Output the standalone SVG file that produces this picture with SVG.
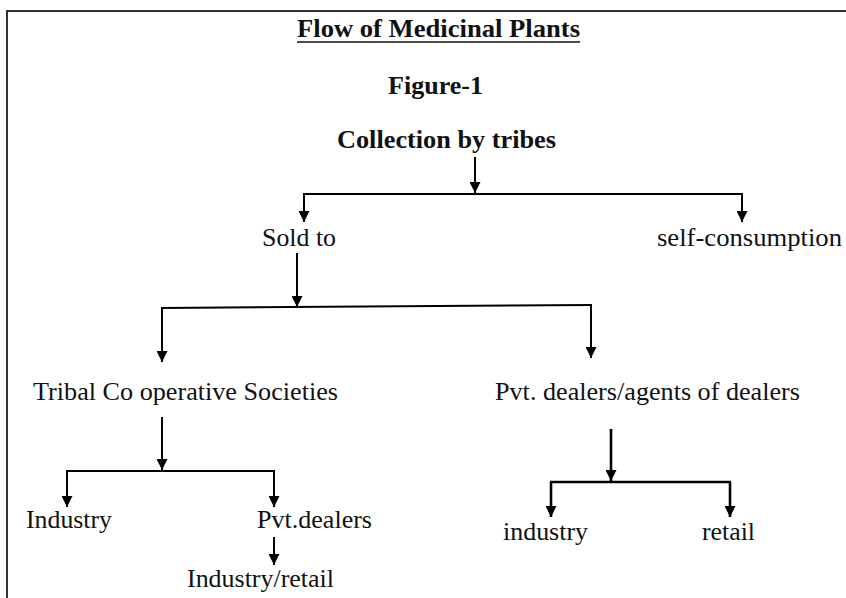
<svg xmlns="http://www.w3.org/2000/svg" width="846" height="598" viewBox="0 0 846 598">
<defs>
<marker id="ah" viewBox="0 0 12 12" refX="12" refY="6" markerWidth="12" markerHeight="11" markerUnits="userSpaceOnUse" orient="auto">
<path d="M0,0 L12,6 L0,12 z" fill="#000"/>
</marker>
</defs>
<style>
.t{font-family:"Liberation Serif","Times New Roman",serif;font-size:25px;fill:#111}
.b{font-weight:bold;font-size:25px}
.c{stroke:#000;stroke-width:2;fill:none}
.a{marker-end:url(#ah)}
.k{stroke-width:2.6}
</style>
<rect width="846" height="598" fill="#fff"/>
<path d="M7,600 V11 H850" fill="none" stroke="#333" stroke-width="2"/>
<g id="title">
<text class="t b" x="297" y="37" textLength="283" lengthAdjust="spacingAndGlyphs">Flow of Medicinal Plants</text>
<line x1="297" y1="42" x2="580" y2="42" stroke="#111" stroke-width="1.6"/>
</g>
<g id="figure"><text class="t b" x="388" y="94" textLength="95" lengthAdjust="spacingAndGlyphs">Figure-1</text></g>
<g id="collection"><text class="t b" x="337" y="148" textLength="219" lengthAdjust="spacingAndGlyphs">Collection by tribes</text></g>
<g id="soldto"><text class="t" x="262" y="246" textLength="74" lengthAdjust="spacingAndGlyphs">Sold to</text></g>
<g id="self"><text class="t" x="657" y="246" textLength="185" lengthAdjust="spacingAndGlyphs">self-consumption</text></g>
<g id="tribal"><text class="t" x="33" y="400" textLength="305" lengthAdjust="spacingAndGlyphs">Tribal Co operative Societies</text></g>
<g id="pvtagents"><text class="t" x="495" y="400" textLength="305" lengthAdjust="spacingAndGlyphs">Pvt. dealers/agents of dealers</text></g>
<g id="industry1"><text class="t" x="26" y="528" textLength="86" lengthAdjust="spacingAndGlyphs">Industry</text></g>
<g id="pvtdealers"><text class="t" x="257" y="528" textLength="115" lengthAdjust="spacingAndGlyphs">Pvt.dealers</text></g>
<g id="indretail"><text class="t" x="187" y="587" textLength="147" lengthAdjust="spacingAndGlyphs">Industry/retail</text></g>
<g id="industry2"><text class="t" x="503" y="540" textLength="85" lengthAdjust="spacingAndGlyphs">industry</text></g>
<g id="retail"><text class="t" x="702" y="540" textLength="53" lengthAdjust="spacingAndGlyphs">retail</text></g>
<g id="connectors">
<line class="c a" x1="475" y1="157" x2="475" y2="193"/>
<line class="c" x1="303" y1="194" x2="743" y2="194"/>
<line class="c a" x1="304" y1="194" x2="304" y2="222"/>
<line class="c a" x1="742" y1="194" x2="742" y2="222"/>
<line class="c a" x1="297" y1="253" x2="297" y2="307"/>
<line class="c" x1="161" y1="308" x2="592" y2="305"/>
<line class="c a" x1="162" y1="308" x2="162" y2="362"/>
<line class="c a" x1="591" y1="305" x2="591" y2="358"/>
<line class="c a" x1="162" y1="417" x2="162" y2="470"/>
<line class="c" x1="66" y1="471" x2="275" y2="471"/>
<line class="c a" x1="67" y1="471" x2="67" y2="507"/>
<line class="c a" x1="274" y1="471" x2="274" y2="507"/>
<line class="c a" x1="274" y1="537" x2="274" y2="565"/>
<line class="c k a" x1="611" y1="429" x2="611" y2="481"/>
<line class="c k" x1="550" y1="482" x2="731" y2="482"/>
<line class="c k a" x1="551" y1="482" x2="551" y2="517"/>
<line class="c k a" x1="730" y1="482" x2="730" y2="517"/>
</g>
</svg>
